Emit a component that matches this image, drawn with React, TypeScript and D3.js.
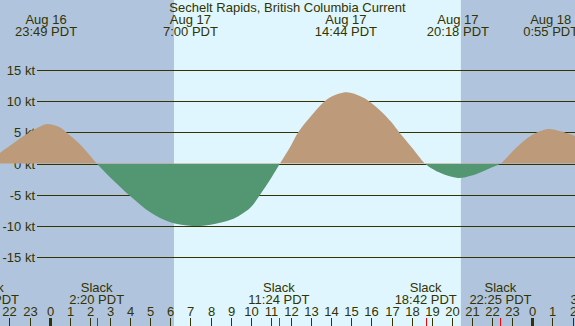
import * as d3 from 'd3'
import React from 'react'

// hours since Aug 17 00:00 PDT, knots
const hours = [
  -3.07, -2.47, -2.0, -1.48, -1.0, -0.5, -0.18, 0.5, 0.86, 1.5, 2.0, 2.34,
  3.0, 4.0, 5.0, 6.0, 7.1, 8.0, 9.0, 9.5, 10.0, 10.46, 11.0, 11.45,
  12.0, 12.36, 13.0, 13.69, 14.0, 14.77, 15.5, 16.0, 16.5, 17.0, 17.38, 18.0, 18.66,
  19.0, 19.5, 20.3, 21.0, 21.5, 22.0, 22.42,
  23.0, 23.5, 24.0, 24.5, 24.92, 25.5, 26.12, 26.5, 27.27,
]
const knots = [
  0, 1.7, 2.8, 4.0, 5.0, 5.9, 6.3, 5.8, 4.9, 3.1, 1.3, 0,
  -2.2, -5.2, -7.8, -9.4, -10.0, -9.8, -9.0, -8.2, -7.0, -5.0, -2.4, 0,
  2.9, 5.0, 7.6, 10.0, 10.7, 11.4, 10.7, 9.7, 8.3, 6.6, 5.0, 2.6, 0,
  -0.8, -1.6, -2.3, -1.9, -1.3, -0.6, 0,
  1.9, 3.4, 4.6, 5.3, 5.5, 5.1, 4.4, 3.5, 0,
]

const extremeHours = [-0.183, 7.0, 14.733, 20.3, 24.917]
const extremeDays = ['Aug 16', 'Aug 17', 'Aug 17', 'Aug 17', 'Aug 18']
const extremeTimes = ['23:49 PDT', '7:00 PDT', '14:44 PDT', '20:18 PDT', '0:55 PDT']

const slackHours = [-3.07, 2.333, 11.4, 18.7, 22.417, 27.27]
const slackTimes = ['20:56 PDT', '2:20 PDT', '11:24 PDT', '18:42 PDT', '22:25 PDT', '3:16 PDT']

const sunrise = 6.18
const sunset = 20.45

const yTicks = [15, 10, 5, 0, -5, -10, -15]
const title = 'Sechelt Rapids, British Columbia Current'

const W = 575
const H = 326
const base = Date.UTC(2024, 7, 17)
const toDate = (h: number) => new Date(base + h * 3600e3)

const ink = '#333300'
const font = '"Liberation Sans", Arial, sans-serif'

export default function App() {
  const x = d3
    .scaleUtc()
    .domain([toDate(-2.472), toDate(26.124)])
    .range([0, W])
  const y = d3.scaleLinear().domain([0, 15]).range([163.5, 69.75])

  const pts = hours.map((h, i) => [h, knots[i]])
  const area = d3
    .area<number[]>()
    .x((d) => x(toDate(d[0])))
    .y0(y(0))
    .y1((d) => y(d[1]))
    .curve(d3.curveCatmullRom.alpha(0.5))
  const areaPath = area(pts) || ''

  const hourTicks = x.ticks(d3.utcHour.every(1)!)
  const fmt = d3.utcFormat('%-H')
  const y0 = Math.round(y(0))

  return (
    <svg
      width={W}
      height={H}
      style={{ position: 'absolute', left: 0, top: 0 }}
      fontFamily={font}
      fontSize={13}
    >
      <defs>
        <clipPath id="flood">
          <rect x={0} y={0} width={W} height={y0} />
        </clipPath>
        <clipPath id="ebb">
          <rect x={0} y={y0} width={W} height={H - y0} />
        </clipPath>
      </defs>
      <rect x={0} y={0} width={W} height={H} fill="#b0c4de" />
      <rect
        x={x(toDate(sunrise))}
        y={0}
        width={x(toDate(sunset)) - x(toDate(sunrise))}
        height={H}
        fill="#dff6fe"
      />

      {yTicks.map((v) => {
        const yy = Math.round(y(v)) + 0.5
        return (
          <g key={v}>
            <line x1={37} x2={W} y1={yy} y2={yy} stroke={ink} strokeWidth={1} />
            <text x={35} y={yy + 4.5} textAnchor="end" fill={ink}>
              {v} kt
            </text>
          </g>
        )
      })}

      <path d={areaPath} fill="#bc9a7a" clipPath="url(#flood)" />
      <path d={areaPath} fill="#529672" clipPath="url(#ebb)" />

      <text x={W / 2} y={12} textAnchor="middle" fill={ink}>
        {title}
      </text>
      {extremeHours.map((h, i) => (
        <g key={i} fill={ink} textAnchor="middle">
          <text x={x(toDate(h))} y={24}>
            {extremeDays[i]}
          </text>
          <text x={x(toDate(h))} y={36}>
            {extremeTimes[i]}
          </text>
        </g>
      ))}

      {slackHours.map((h, i) => (
        <g key={i} fill={ink} textAnchor="middle">
          <text x={x(toDate(h))} y={291.5}>
            Slack
          </text>
          <text x={x(toDate(h))} y={304}>
            {slackTimes[i]}
          </text>
        </g>
      ))}

      {hourTicks.map((t, i) => {
        const xx = Math.round(x(t)) + 0.5
        const midnight = t.getUTCHours() === 0
        return (
          <g key={i}>
            <line
              x1={xx}
              x2={xx}
              y1={318}
              y2={H}
              stroke={ink}
              strokeWidth={midnight ? 3 : 1}
            />
            <text x={xx} y={316} textAnchor="middle" fill={ink}>
              {fmt(t)}
            </text>
          </g>
        )
      })}
      {slackHours.map((h, i) => {
        const xx = Math.round(x(toDate(h))) + 0.5
        return <line key={i} x1={xx} x2={xx} y1={318} y2={H} stroke="#ff0000" strokeWidth={1} />
      })}
    </svg>
  )
}
